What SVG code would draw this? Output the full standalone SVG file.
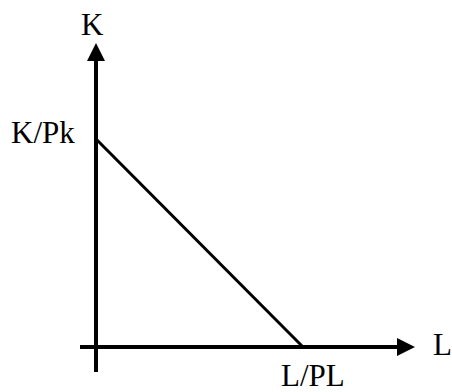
<svg xmlns="http://www.w3.org/2000/svg" width="452" height="392" viewBox="0 0 452 392">
<style>
.ax{stroke:#000;stroke-width:4;fill:none}
.ln{stroke:#000;stroke-width:3;fill:none}
.head{fill:#000}
text{font-family:"Liberation Serif","Times New Roman",serif;font-size:31px;fill:#000}
</style>
<rect width="452" height="392" fill="#fff"/>
<g id="connectors">
<line class="ax" x1="96" y1="372" x2="96" y2="58"/>
<polygon class="head" points="96,43 87,61 105,61"/>
<line class="ax" x1="80" y1="347" x2="400" y2="347"/>
<polygon class="head" points="415,347 397,338 397,356"/>
<line class="ln" x1="96" y1="139" x2="303" y2="347"/>
</g>
<g id="label-K"><text x="81" y="35">K</text></g>
<g id="label-KPk"><text x="11" y="143">K/Pk</text></g>
<g id="label-L"><text x="433" y="355">L</text></g>
<g id="label-LPL"><text x="281" y="386">L/PL</text></g>
</svg>
